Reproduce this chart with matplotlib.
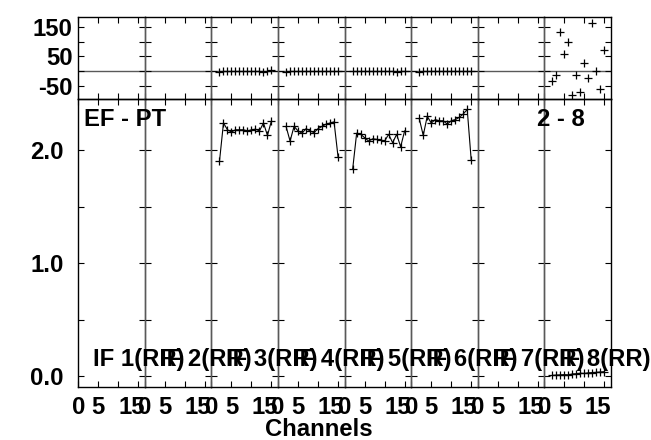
import matplotlib
matplotlib.use("Agg")
import matplotlib.pyplot as plt
import matplotlib.transforms as mtransforms

# ---------------- data ----------------
channels = [2, 3, 4, 5, 6, 7, 8, 9, 10, 11, 12, 13, 14, 15]
if_labels = ["IF 1(RR)", "IF 2(RR)", "IF 3(RR)", "IF 4(RR)",
             "IF 5(RR)", "IF 6(RR)", "IF 7(RR)", "IF 8(RR)"]

amp_if3 = [1.90, 2.24, 2.18, 2.16, 2.18, 2.18, 2.18, 2.17, 2.18, 2.185, 2.17, 2.24, 2.13, 2.26]
amp_if4 = [2.21, 2.08, 2.21, 2.17, 2.15, 2.19, 2.17, 2.155, 2.19, 2.21, 2.23, 2.24, 2.25, 1.94]
amp_if5 = [1.83, 2.15, 2.14, 2.11, 2.08, 2.10, 2.095, 2.09, 2.08, 2.14, 2.065, 2.14, 2.03, 2.17]
amp_if6 = [2.28, 2.13, 2.30, 2.24, 2.27, 2.26, 2.26, 2.23, 2.26, 2.27, 2.29, 2.32, 2.36, 1.91]
amp_if8 = [0.005, 0.008, 0.010, 0.012, 0.010, 0.018, 0.020, 0.024, 0.022, 0.028, 0.030, 0.032, 0.035, 0.038]

ph_if3 = [-3, -1, 0, 0, 1, 0, 0, 0, 1, 0, 0, -2, 1, 2]
ph_if4 = [-4, 0, 1, 0, 0, 0, 1, 0, 0, 0, 1, 0, 0, 0]
ph_if5 = [1, 0, 0, 0, 0, 1, 0, 0, 0, 0, 0, -2, 0, 1]
ph_if6 = [-2, 1, 0, 0, 0, 0, 0, 0, 0, 0, 0, 0, 0, 0]
ph_if8 = [-34, -14, 134, 58, 98, -81, -13, -72, 28, -25, 166, 1, -62, 73]

amps = [None, None, amp_if3, amp_if4, amp_if5, amp_if6, None, amp_if8]
phases = [None, None, ph_if3, ph_if4, ph_if5, ph_if6, None, ph_if8]

x_ticks = [0, 5, 10, 15]
x_ticklabels = ["0", "5", "", "15"]
ph_ticks = [-50, 0, 50, 100, 150]
ph_ticklabels = ["-50", "", "50", "", "150"]
amp_ticks = [0.0, 0.5, 1.0, 1.5, 2.0]
amp_ticklabels = ["0.0", "", "1.0", "", "2.0"]

baseline_title = "EF - PT"
baseline_right = "2 - 8"
xlabel = "Channels"

# ---------------- style ----------------
plt.rcParams['font.family'] = ['Liberation Sans', 'DejaVu Sans']
plt.rcParams['font.weight'] = 'bold'
FS = 17.2

W, H = 651, 440
fig = plt.figure(figsize=(W / 100, H / 100), dpi=100)

left, right = 78.3 / W, 611.0 / W
top, bottom = 1 - 17.3 / H, 1 - 386.7 / H
mid = 1 - 99.3 / H
n = 8
pw = (right - left) / n

XLIM = (0, 16.65)
PHLIM = (-97, 184)
AMPLIM = (-0.095, 2.45)

for i in range(n):
    x0 = left + i * pw
    axp = fig.add_axes([x0, mid, pw, top - mid])
    axa = fig.add_axes([x0, bottom, pw, mid - bottom])
    for ax in (axp, axa):
        ax.set_xlim(*XLIM)
        ax.set_facecolor('none')
        for name, s in ax.spines.items():
            s.set_linewidth(1.0)
            s.set_color('black')
        if i > 0:
            ax.spines['left'].set_color('0.35')
        if i < n - 1:
            ax.spines['right'].set_color('0.35')
        ax.tick_params(direction='in', length=4.2, width=0.8, top=True, right=True,
                       labelsize=FS, color='black')
        ax.set_xticks(x_ticks)
    axp.set_ylim(*PHLIM)
    axa.set_ylim(*AMPLIM)
    axp.set_yticks(ph_ticks)
    axa.set_yticks(amp_ticks)
    axp.set_xticklabels([])
    axp.axhline(0, color='0.35', lw=1.0, zorder=1)

    if i == 0:
        axp.set_yticklabels(ph_ticklabels, fontweight='bold')
        axa.set_yticklabels(amp_ticklabels, fontweight='bold')
        axp.tick_params(axis='y', pad=4.0)
        axa.tick_params(axis='y', pad=10.5)
    else:
        axp.set_yticklabels([])
        axa.set_yticklabels([])

    axa.set_xticklabels(x_ticklabels, fontweight='bold')
    axa.tick_params(axis='x', pad=6.5)
    # shift the "15" label slightly left, as in the reference
    off = mtransforms.ScaledTranslation(-7 / 100, 0, fig.dpi_scale_trans)
    for lab in axa.get_xticklabels():
        if lab.get_text() == "15":
            lab.set_transform(lab.get_transform() + off)

    if phases[i] is not None:
        axp.plot(channels, phases[i], linestyle='none', marker='+', ms=6, mew=0.9,
                 color='black', clip_on=False)
    if amps[i] is not None:
        axa.plot(channels, amps[i], linestyle='-', lw=0.8, marker='+', ms=6, mew=0.9,
                 color='black')

    # IF label in each panel
    fig.text(x0 + (93.3 - 78.3) / W, 1 - 366 / H, if_labels[i], fontsize=FS,
             fontweight='bold', ha='left', va='baseline', zorder=5)

fig.text(84 / W, 1 - 126 / H, baseline_title, fontsize=FS, fontweight='bold',
         ha='left', va='baseline')
fig.text(536.7 / W, 1 - 126 / H, baseline_right, fontsize=FS, fontweight='bold',
         ha='left', va='baseline')
fig.text(319 / W, 1 - 436 / H, xlabel, fontsize=FS, fontweight='bold',
         ha='center', va='baseline')

fig.savefig("out.png", dpi=100)
